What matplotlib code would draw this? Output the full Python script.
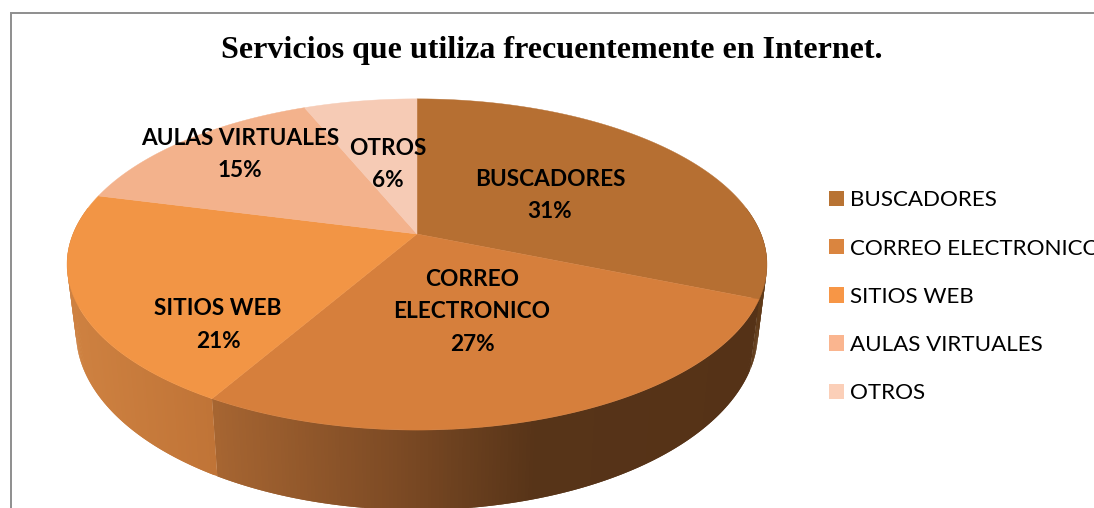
import numpy as np
import matplotlib
matplotlib.use("Agg")
import matplotlib.pyplot as plt
from matplotlib.patches import Patch

TITLE = "Servicios que utiliza frecuentemente en Internet."
categories = ["BUSCADORES", "CORREO ELECTRONICO", "SITIOS WEB", "AULAS VIRTUALES", "OTROS"]
data_labels = ["BUSCADORES", "CORREO\nELECTRONICO", "SITIOS WEB", "AULAS VIRTUALES", "OTROS"]
values = [31.2, 27.15, 20.65, 14.75, 6.25]

top_colors = ["#B66F32", "#D67F3C", "#F29545", "#F3B28C", "#F6CBB5"]
legend_colors = ["#B87333", "#DA853F", "#F79646", "#FAB58F", "#FBCFB8"]
label_xy = [(550, 195.5), (472, 312), (218, 325), (240, 154.5), (388, 164.5)]

# Layout of the perspective pie, in image pixels
CX, CY = 417.0, 234.0      # apex of the slices
A, B, K = 344.0, 160.0, 0.184
ELL_TOP = (417.0, 264.5, 350.0, 165.5)
ELL_BOT = (417.0, 332.0, 341.0, 178.0)
# Side wall shading, stops over x for each visible slice
wall_x = [[740, 775], [212, 400, 533, 760], [60, 215]]
wall_rgb = [[(0x5E, 0x39, 0x19), (0x62, 0x3B, 0x1A)],
            [(0xA8, 0x66, 0x32), (0x7C, 0x4A, 0x24), (0x57, 0x34, 0x18), (0x55, 0x32, 0x17)],
            [(0xD0, 0x83, 0x42), (0xC0, 0x74, 0x37)]]

fig = plt.figure(figsize=(10.94, 5.08), dpi=100, facecolor="white")
ax = fig.add_axes([0, 0, 1, 1])
ax.set_xlim(0, 1094)
ax.set_ylim(508, 0)
ax.axis("off")


def project(frac):
    th = 2 * np.pi * np.asarray(frac)
    u, v = np.sin(th), np.cos(th)
    w = 1 + K * v
    return CX + A * u / w, CY - B * v / w


def rim_param(frac):
    x, y = project(frac)
    cx, cy, rx, ry = ELL_TOP
    return np.arctan2((y - cy) / ry, (x - cx) / rx)


cum = np.concatenate([[0], np.cumsum(values)]) / np.sum(values)

# side wall, from the right silhouette round the front to the left one
t_b = float(rim_param(cum[1]))            # buscadores / correo seam
t_c = float(rim_param(cum[2]))            # correo / sitios seam
spans = [(-0.35, t_b), (t_b, t_c), (t_c, np.pi + 0.35)]
for (t0, t1), xs, rgb in zip(spans, wall_x, wall_rgb):
    n = max(int((t1 - t0) * 90), 4)
    edges = np.linspace(t0, t1, n + 1)
    dt = edges[1] - edges[0]
    rgb = np.array(rgb, float) / 255
    for a in edges[:-1]:
        ts = np.linspace(a, min(a + 2 * dt, t1), 3)
        xt = ELL_TOP[0] + ELL_TOP[2] * np.cos(ts)
        yt = ELL_TOP[1] + ELL_TOP[3] * np.sin(ts)
        xb = ELL_BOT[0] + ELL_BOT[2] * np.cos(ts)
        yb = ELL_BOT[1] + ELL_BOT[3] * np.sin(ts)
        col = [np.interp(xb[:2].mean(), xs, rgb[:, i]) for i in range(3)]
        ax.fill(np.r_[xt, xb[::-1]], np.r_[yt, yb[::-1]],
                facecolor=col, edgecolor="none", lw=0, zorder=1)

# top face
for i, (f0, f1) in enumerate(zip(cum[:-1], cum[1:])):
    x, y = project(np.linspace(f0, f1, 160))
    ax.fill(np.r_[CX, x], np.r_[CY, y], facecolor=top_colors[i],
            edgecolor=top_colors[i], lw=0.3, zorder=2)

# data labels
for name, val, (x, y) in zip(data_labels, values, label_xy):
    ax.text(x, y, f"{name}\n{round(val)}%", ha="center", va="center", family="Lato",
            weight="bold", fontsize=16.3, color="black", linespacing=1.68, zorder=3)

ax.text(552, 50.5, TITLE, ha="center", va="center", family="Liberation Serif",
        weight="bold", fontsize=23.0, color="black", zorder=3)

# chart frame (runs off the image on the right and at the bottom)
ax.plot([11, 11, 1094], [508, 12.7, 12.7], color="#8E8E8E", lw=1.4, zorder=4,
        solid_joinstyle="miter")

# legend
handles = [Patch(facecolor=c, edgecolor=c, lw=0) for c in legend_colors]
ax.legend(handles, categories, loc="upper left", bbox_to_anchor=(829, 190.5),
          bbox_transform=ax.transData, frameon=False, borderpad=0, borderaxespad=0,
          prop={"family": "Lato", "size": 16.1}, handlelength=0.67, handleheight=0.67,
          handletextpad=0.27, labelspacing=1.258)

fig.savefig("out.png", dpi=100, facecolor="white")
